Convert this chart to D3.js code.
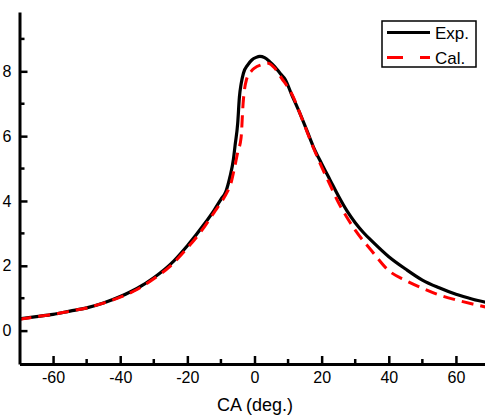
<!DOCTYPE html>
<html>
<head>
<meta charset="utf-8">
<script src="https://cdn.jsdelivr.net/npm/d3@7"></script>
<style>
  body { margin: 0; background: #fff; }
  svg { display: block; font-family: Arial, "Liberation Sans", sans-serif; }
</style>
</head>
<body>
<div class="chart"></div>
<script>
// Exp. (measured) curve
const expAngle = [-70, -65, -60, -55, -50, -45, -40, -35, -30, -25, -20, -15, -12, -10, -8.5, -7.3, -6.3, -5.8, -5, -4.5, -4, -3.3, -2, -0.8, 0.5, 1.6, 3, 4.5, 6, 7.6, 9.2, 11, 13.5, 15.5, 17.5, 20, 22.5, 25, 27.5, 30, 32.5, 35, 40, 45, 50, 55, 60, 65, 70];
const expValue = [0.36, 0.43, 0.5, 0.6, 0.7, 0.85, 1.05, 1.3, 1.63, 2.05, 2.62, 3.28, 3.72, 4.05, 4.3, 4.75, 5.27, 5.7, 6.4, 7.2, 7.6, 7.94, 8.2, 8.35, 8.43, 8.46, 8.42, 8.3, 8.15, 7.94, 7.74, 7.3, 6.71, 6.2, 5.68, 5.15, 4.65, 4.15, 3.7, 3.33, 3.02, 2.76, 2.28, 1.9, 1.56, 1.32, 1.12, 0.97, 0.85];

// Cal. (calculated) curve
const calAngle = [-70, -65, -60, -55, -50, -45, -40, -35, -30, -25, -20, -16, -12, -10, -8, -7, -6, -5, -4, -3.4, -2.4, -1, 0, 2, 4, 6, 8, 11.5, 13.5, 17.5, 20, 22.5, 25, 27.5, 30, 35, 40, 45, 50, 55, 60, 65, 70];
const calValue = [0.35, 0.43, 0.5, 0.6, 0.7, 0.85, 1.03, 1.27, 1.6, 2.0, 2.55, 3.05, 3.65, 3.95, 4.3, 4.55, 5.0, 5.5, 5.95, 7.0, 7.74, 8.0, 8.1, 8.2, 8.25, 8.1, 7.8, 7.22, 6.71, 5.65, 5.05, 4.5, 3.95, 3.5, 3.1, 2.45, 1.85, 1.55, 1.31, 1.1, 0.95, 0.82, 0.7];

const xMajor = [-60, -40, -20, 0, 20, 40, 60];
const xMinor = [-50, -30, -10, 10, 30, 50];
const yMajor = [0, 2, 4, 6, 8];
const yMinor = [1, 3, 5, 7, 9];

const width = 485
const height = 417

const x = d3.scaleLinear().domain([-70, 70]).range([19.5, 489.5]);
const y = d3.scaleLinear().domain([-1.03, 9.83]).range([364, 12]);

const svg = d3.select(".chart")
    .append("svg")
    .attr("width", width)
    .attr("height", height);

// curves
const line = d3.line()
    .x(d => x(d[0]))
    .y(d => y(d[1]))
    .curve(d3.curveMonotoneX);

svg.append("path")
    .datum(d3.zip(expAngle, expValue))
    .attr("fill", "none")
    .attr("stroke", "#000")
    .attr("stroke-width", 3.2)
    .attr("stroke-linejoin", "round")
    .attr("d", line);

svg.append("path")
    .datum(d3.zip(calAngle, calValue))
    .attr("fill", "none")
    .attr("stroke", "#f00")
    .attr("stroke-width", 3)
    .attr("stroke-dasharray", "12,7")
    .attr("d", line);

// axes, ticks pointing inward; plain hyphen for negatives
const fmt = d => String(d);

const xAxis = svg.append("g")
    .attr("transform", `translate(0,${y.range()[0]})`)
    .call(d3.axisBottom(x).tickValues(xMajor).tickFormat(fmt).tickSizeInner(-8).tickSizeOuter(0).tickPadding(8));
xAxis.append("g")
    .selectAll("line")
    .data(xMinor)
    .join("line")
    .attr("x1", d => x(d)).attr("x2", d => x(d))
    .attr("y1", 0).attr("y2", -5)
    .attr("stroke", "#000");

const yAxis = svg.append("g")
    .attr("transform", `translate(${x.range()[0]},0)`)
    .call(d3.axisLeft(y).tickValues(yMajor).tickFormat(fmt).tickSizeInner(-8).tickSizeOuter(0).tickPadding(8));
yAxis.append("g")
    .selectAll("line")
    .data(yMinor)
    .join("line")
    .attr("y1", d => y(d)).attr("y2", d => y(d))
    .attr("x1", 0).attr("x2", 5)
    .attr("stroke", "#000");

svg.selectAll(".domain").attr("stroke-width", 3);
svg.selectAll(".tick line").attr("stroke-width", 2.5);
xAxis.selectAll("g > line").attr("stroke-width", 2.5);
yAxis.selectAll("g > line").attr("stroke-width", 2.5);
svg.selectAll(".tick text")
    .attr("font-size", 16)
    .attr("font-family", "Arial, 'Liberation Sans', sans-serif")
    .attr("fill", "#000");

svg.append("text")
    .attr("x", 255)
    .attr("y", 411)
    .attr("text-anchor", "middle")
    .attr("font-size", 18)
    .text("CA (deg.)");

// legend
const legend = svg.append("g");
legend.append("rect")
    .attr("x", 382).attr("y", 21)
    .attr("width", 94).attr("height", 46)
    .attr("fill", "#fff")
    .attr("stroke", "#000")
    .attr("stroke-width", 1.5);
legend.append("line")
    .attr("x1", 387).attr("x2", 430)
    .attr("y1", 32.5).attr("y2", 32.5)
    .attr("stroke", "#000").attr("stroke-width", 3);
legend.append("line")
    .attr("x1", 387).attr("x2", 430)
    .attr("y1", 57.5).attr("y2", 57.5)
    .attr("stroke", "#f00").attr("stroke-width", 3)
    .attr("stroke-dasharray", "16,17");
legend.append("text")
    .attr("x", 435).attr("y", 38.5)
    .attr("font-size", 17)
    .text("Exp.");
legend.append("text")
    .attr("x", 435).attr("y", 63.5)
    .attr("font-size", 17)
    .text("Cal.");
</script>
</body>
</html>
